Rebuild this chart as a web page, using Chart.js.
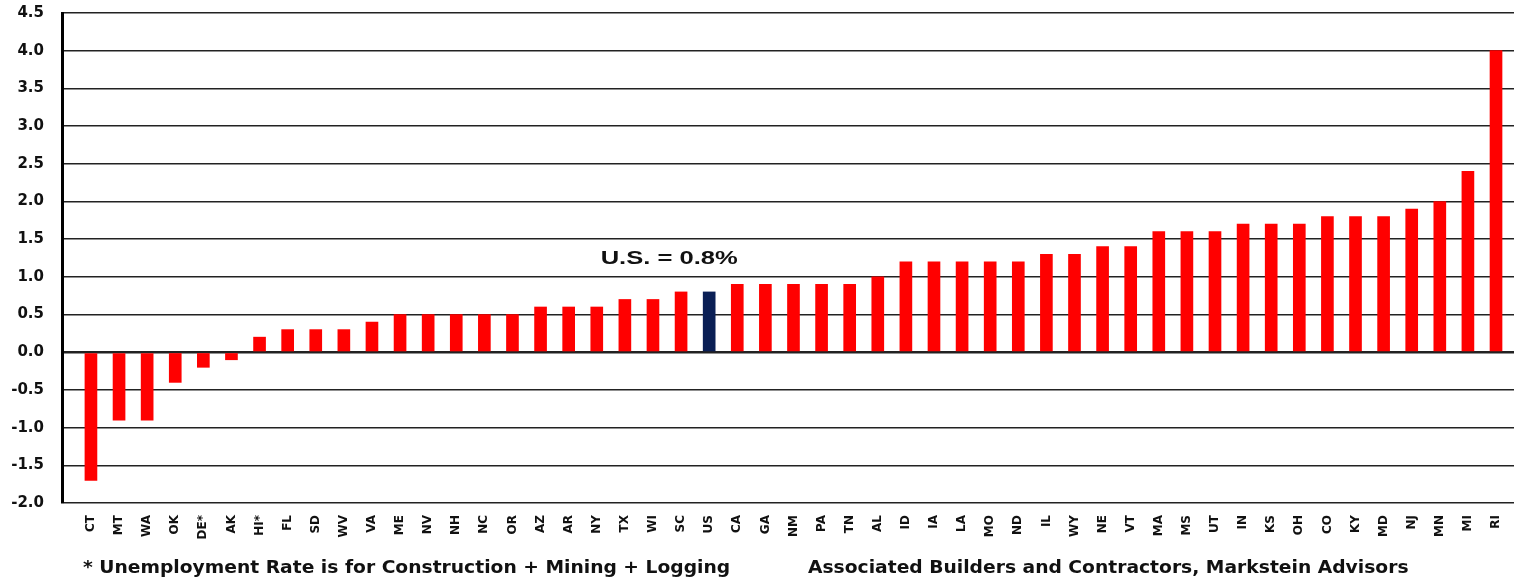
<!DOCTYPE html>
<html>
<head>
<meta charset="utf-8">
<script src="https://cdn.jsdelivr.net/npm/chart.js@4/dist/chart.umd.min.js"></script>
<style>
  body { margin: 0; background: #fff; }
  #wrap { position: relative; width: 1514px; height: 579px; }
  .note { position: absolute; top: 557px; font: bold 17px "DejaVu Sans", sans-serif; color: #111; white-space: nowrap;
          transform: scaleX(1.1); transform-origin: left center; }
</style>
</head>
<body>
<div id="wrap">
  <canvas id="chart" width="1514" height="579"></canvas>
  <div class="note" style="left:83px">* Unemployment Rate is for Construction + Mining + Logging</div>
  <div class="note" style="left:808px">Associated Builders and Contractors, Markstein Advisors</div>
</div>
<script>
const states = ["CT","MT","WA","OK","DE*","AK","HI*","FL","SD","WV","VA","ME","NV","NH","NC","OR","AZ","AR","NY","TX","WI","SC","US","CA","GA","NM","PA","TN","AL","ID","IA","LA","MO","ND","IL","WY","NE","VT","MA","MS","UT","IN","KS","OH","CO","KY","MD","NJ","MN","MI","RI"];
const change = [-1.7,-0.9,-0.9,-0.4,-0.2,-0.1,0.2,0.3,0.3,0.3,0.4,0.5,0.5,0.5,0.5,0.5,0.6,0.6,0.6,0.7,0.7,0.8,0.8,0.9,0.9,0.9,0.9,0.9,1.0,1.2,1.2,1.2,1.2,1.2,1.3,1.3,1.4,1.4,1.6,1.6,1.6,1.7,1.7,1.7,1.8,1.8,1.8,1.9,2.0,2.4,4.0];
const usLabel = "U.S. = 0.8%";

// text tag above the US bar, a bit wide like the rest of the lettering
const usTag = {
  id: 'usTag',
  afterDatasetsDraw(chart) {
    const i = states.indexOf("US");
    const x = chart.scales.x.getPixelForValue(i) - 40;
    const y = chart.scales.y.getPixelForValue(change[i] + 0.43);
    const c = chart.ctx;
    c.save();
    c.translate(x, y);
    c.scale(1.42, 1);
    c.font = 'bold 18px "Liberation Sans", Arial, sans-serif';
    c.fillStyle = '#111';
    c.textAlign = 'center';
    c.textBaseline = 'middle';
    c.fillText(usLabel, 0, 0);
    c.restore();
  }
};

new Chart(document.getElementById("chart"), {
  type: 'bar',
  data: {
    datasets: [{
      data: change.map((v, i) => ({x: i, y: v})),
      backgroundColor: states.map(s => s === "US" ? '#0a1f55' : '#ff0000'),
      barThickness: 12
    }]
  },
  options: {
    responsive: false,
    animation: false,
    layout: {padding: {top: 13, right: 0, left: 0, bottom: 0}},
    plugins: {legend: {display: false}, tooltip: {enabled: false}},
    scales: {
      x: {
        type: 'linear',
        offset: false,
        min: -1.03,
        max: 50.64,
        afterBuildTicks: s => { s.ticks = states.map((_, i) => ({value: i})); },
        afterFit: s => { s.height = 76; s.paddingLeft = 0; s.paddingRight = 0; },
        grid: {display: false},
        border: {display: false},
        ticks: {
          autoSkip: false,
          minRotation: 90,
          maxRotation: 90,
          padding: 4,
          color: '#111',
          font: {family: 'DejaVu Sans', weight: 'bold', size: 12},
          callback: v => states[v]
        }
      },
      y: {
        min: -2,
        max: 4.5,
        afterFit: s => { s.width = 62; s.paddingTop = 0; s.paddingBottom = 0; },
        grid: {
          color: '#222',
          lineWidth: c => c.tick.value === 0 ? 2.5 : 1.5,
          drawTicks: false
        },
        border: {display: true, color: '#000', width: 3},
        ticks: {
          stepSize: 0.5,
          padding: 18,
          color: '#111',
          font: {family: 'DejaVu Sans', weight: 'bold', size: 15},
          callback: v => v.toFixed(1)
        }
      }
    }
  },
  plugins: [usTag]
});
</script>
</body>
</html>
